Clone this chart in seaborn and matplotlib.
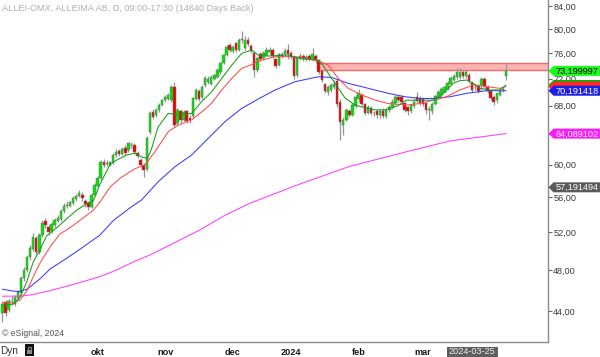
import numpy as np
import pandas as pd
import matplotlib
matplotlib.use("Agg")
import matplotlib.pyplot as plt
from matplotlib.patches import Polygon, Rectangle
from matplotlib.transforms import IdentityTransform
from matplotlib.ticker import NullLocator, NullFormatter
import seaborn as sns

# ---------------- data ----------------
opens = [43.8, 44.8, 44.1, 44.9, 44.7, 45.2, 45.7, 47.2, 48.0, 49.3,
         50.2, 51.4, 49.9, 51.7, 53.2, 52.6, 52.1, 52.8, 53.3, 53.5,
         54.4, 55.0, 55.0, 55.3, 55.8, 56.2, 56.3, 55.6, 55.3, 54.9,
         56.3, 57.4, 58.3, 60.4, 60.1, 60.0, 60.3, 61.2, 61.8, 61.4,
         62.2, 61.9, 62.6, 62.6, 61.5, 60.6, 60.0, 59.4, 64.3, 67.1,
         66.7, 67.4, 68.1, 68.8, 69.0, 68.8, 70.8, 65.6, 67.2, 66.0,
         67.2, 66.3, 66.5, 69.0, 70.1, 69.2, 71.0, 71.5, 71.2, 72.0,
         72.3, 73.0, 74.5, 75.7, 77.3, 76.4, 77.6, 76.5, 78.1, 76.9,
         78.2, 77.2, 76.0, 73.4, 75.8, 75.2, 75.7, 76.2, 76.5, 75.0,
         74.2, 75.7, 75.9, 76.6, 76.0, 75.4, 72.5, 75.2, 75.6, 75.0,
         75.5, 74.9, 75.5, 74.9, 73.2, 71.2, 70.0, 70.3, 70.8, 71.6,
         68.6, 65.3, 66.0, 67.2, 66.7, 67.9, 68.9, 69.6, 68.2, 67.0,
         67.6, 66.9, 67.2, 66.6, 67.3, 66.5, 67.4, 67.8, 68.4, 69.3,
         69.3, 68.4, 67.8, 67.2, 68.0, 69.3, 69.1, 68.9, 68.4, 67.4,
         67.3, 68.3, 69.2, 69.5, 70.0, 70.5, 71.2, 71.8, 72.2, 72.2,
         73.0, 72.4, 72.6, 71.4, 70.8, 70.9, 71.0, 72.0, 70.8, 70.1,
         69.3, 68.8, 69.6, 70.3, 72.4]
highs = [44.9, 45.0, 45.1, 45.4, 45.5, 46.0, 47.4, 48.3, 49.5, 50.6,
         51.9, 51.6, 51.9, 53.4, 53.6, 52.8, 53.1, 53.6, 53.9, 54.6,
         55.3, 55.5, 55.6, 56.1, 56.4, 56.9, 56.6, 55.8, 55.5, 56.5,
         57.7, 58.6, 60.6, 60.7, 60.6, 60.5, 61.5, 62.0, 62.0, 62.3,
         62.5, 63.0, 63.0, 62.8, 61.8, 60.9, 60.2, 63.7, 67.3, 67.5,
         67.7, 68.4, 69.0, 69.6, 69.8, 71.0, 71.5, 67.7, 67.5, 67.4,
         67.4, 66.6, 69.3, 70.6, 70.4, 71.0, 72.4, 72.4, 72.5, 72.8,
         73.6, 74.6, 75.9, 77.3, 77.6, 77.3, 77.9, 78.5, 79.6, 78.8,
         78.6, 77.5, 76.3, 75.4, 76.2, 76.3, 77.0, 77.0, 76.8, 75.3,
         76.1, 76.2, 76.8, 77.5, 76.4, 75.7, 75.5, 76.0, 75.9, 75.7,
         75.8, 76.9, 75.8, 75.1, 73.4, 71.4, 71.0, 71.3, 71.8, 71.9,
         68.9, 66.4, 67.7, 67.5, 68.4, 69.6, 70.4, 69.9, 68.4, 68.1,
         67.9, 67.3, 67.5, 67.5, 67.6, 67.7, 68.1, 68.9, 69.6, 69.6,
         69.5, 68.6, 68.0, 68.3, 68.9, 70.0, 69.4, 69.3, 68.6, 67.9,
         68.5, 69.6, 70.3, 70.8, 71.0, 71.6, 72.4, 72.7, 73.7, 73.6,
         73.3, 73.3, 72.9, 71.7, 71.2, 71.2, 72.3, 72.3, 71.0, 70.3,
         69.5, 69.8, 70.4, 70.8, 74.4]
lows = [43.0, 43.5, 43.9, 44.6, 44.5, 45.0, 45.5, 46.9, 47.8, 49.0,
        50.0, 49.6, 49.6, 51.5, 52.5, 51.7, 51.9, 52.6, 53.1, 53.3,
        54.2, 54.7, 54.8, 55.1, 55.6, 56.0, 55.6, 54.9, 54.5, 54.7,
        56.1, 57.2, 58.1, 59.7, 59.8, 59.8, 60.1, 61.0, 61.1, 61.2,
        61.3, 61.7, 62.2, 61.4, 60.8, 59.8, 58.5, 59.2, 64.0, 66.1,
        66.4, 67.1, 67.9, 68.5, 68.8, 68.6, 65.0, 65.3, 65.6, 65.8,
        65.5, 65.6, 66.2, 68.8, 68.7, 69.0, 70.8, 71.2, 71.0, 71.8,
        72.1, 72.8, 74.3, 75.5, 76.2, 76.1, 76.2, 76.3, 77.7, 76.6,
        77.2, 76.0, 72.3, 73.1, 74.7, 74.9, 75.5, 75.9, 75.2, 73.6,
        74.0, 75.3, 75.6, 75.0, 75.1, 72.0, 72.2, 74.9, 74.8, 74.7,
        74.8, 74.7, 74.5, 72.8, 71.5, 69.8, 69.6, 70.0, 70.5, 67.8,
        63.2, 63.9, 65.8, 66.4, 66.5, 67.7, 68.6, 68.0, 66.7, 66.8,
        66.6, 66.5, 66.3, 66.3, 66.2, 66.2, 67.1, 67.5, 68.1, 68.5,
        68.2, 67.1, 66.7, 66.9, 67.7, 68.4, 68.1, 67.9, 66.8, 65.9,
        66.8, 68.1, 69.0, 69.3, 69.8, 70.3, 71.0, 71.6, 72.0, 72.0,
        72.1, 72.1, 71.3, 70.0, 70.3, 69.8, 70.3, 70.6, 69.8, 68.8,
        68.1, 68.4, 69.4, 70.0, 71.8]
closes = [44.7, 43.8, 44.9, 44.95, 45.3, 45.8, 47.2, 48.0, 49.3, 50.3,
          51.5, 49.9, 51.7, 53.0, 52.8, 52.0, 52.9, 53.4, 53.6, 54.4,
          55.0, 55.1, 55.4, 55.9, 56.1, 56.5, 55.9, 55.2, 54.8, 56.3,
          57.5, 58.3, 60.4, 60.0, 60.2, 60.3, 61.3, 61.6, 61.4, 62.0,
          61.5, 62.8, 62.5, 61.6, 61.1, 60.0, 59.3, 63.5, 67.0, 66.4,
          67.4, 68.1, 68.8, 69.3, 69.5, 70.8, 65.3, 67.4, 65.9, 67.1,
          65.8, 65.9, 69.1, 70.3, 69.0, 70.8, 72.1, 71.9, 72.2, 72.5,
          73.4, 74.4, 75.7, 77.0, 76.6, 77.0, 76.5, 78.2, 78.3, 78.2,
          77.5, 76.3, 73.4, 75.2, 75.0, 76.0, 76.6, 76.5, 75.5, 73.9,
          75.8, 75.8, 76.4, 75.9, 75.4, 72.4, 75.3, 75.6, 75.1, 75.4,
          75.1, 75.8, 74.9, 73.1, 71.8, 70.1, 70.7, 71.0, 71.2, 68.2,
          65.7, 66.0, 67.4, 66.7, 68.1, 69.3, 69.8, 68.3, 67.0, 67.8,
          66.9, 66.95, 66.6, 67.2, 66.5, 67.4, 67.8, 68.6, 69.3, 68.8,
          68.5, 67.4, 67.2, 68.1, 68.6, 68.7, 68.4, 68.2, 67.4, 67.5,
          68.3, 69.4, 70.0, 70.5, 70.8, 71.3, 72.1, 72.4, 73.0, 73.0,
          72.4, 73.0, 71.6, 70.3, 70.7, 70.1, 72.0, 70.9, 70.1, 69.1,
          68.5, 69.8, 70.1, 70.4, 73.2]

# moving averages (bar index, value)
ma_fast_idx = [0, 3.5, 5.7, 7.9, 10, 12.2, 14.4, 17.7, 20.9, 24.2, 26.9, 29.6,
               31.8, 35, 37.2, 40.5, 43.2, 45.3, 47.2, 48.5, 50.7, 54, 57.3,
               61.6, 64.9, 68.1, 71.4, 74.7, 77.9, 81.2, 83.3, 86.5, 93, 96.3,
               102.4, 104.4, 107.2, 109.4, 111.6, 114.8, 118.1, 121.3, 124.6,
               128.6, 131.6, 136, 140.3, 142.5, 144.7, 146.8, 149, 151.2,
               153.4, 155.5, 158.8, 162, 164]
ma_fast_val = [44.5, 44.65, 45.3, 46.8, 48.8, 50.1, 51.6, 52.5, 53.5, 54.5,
               55.1, 55.6, 57.6, 60.0, 60.6, 61.25, 61.5, 61.0, 60.8, 62.0,
               65.0, 66.9, 66.7, 66.9, 68.6, 70.0, 72.05, 74.1, 75.98, 76.5,
               75.7, 75.55, 75.7, 75.2, 74.9, 74.1, 72.05, 70.6, 69.1, 68.1,
               67.7, 67.4, 67.4, 67.95, 68.8, 68.8, 68.8, 69.3, 70.3, 71.3,
               71.7, 71.8, 71.3, 70.55, 70.3, 70.3, 71.05]
ma_mid_idx = [0, 3.5, 5.7, 7.9, 10, 12.2, 15.5, 18.7, 22, 26.3, 29.6, 31.8,
              35, 38.3, 41.5, 43.2, 46.4, 49.7, 54, 57.3, 61.6, 64.9, 68.1,
              71.4, 74.7, 77.9, 81.2, 83.3, 88.8, 95.3, 102.4, 106.1, 109.4,
              112.6, 117, 121.3, 125.7, 131.6, 136, 140.3, 144.7, 149, 153.4,
              157.7, 162, 164]
ma_mid_val = [44.76, 44.76, 45.04, 45.9, 47.3, 48.7, 50.4, 51.8, 52.5, 53.6,
              54.5, 55.45, 57.2, 58.3, 59.1, 59.5, 59.96, 61.7, 64.35, 65.27,
              65.97, 67.1, 68.34, 70.3, 72.05, 73.6, 74.2, 74.75, 75.45, 75.45,
              74.9, 74.1, 72.05, 70.55, 69.56, 68.82, 68.3, 68.1, 68.3, 68.8,
              69.3, 70.3, 71.05, 70.8, 70.55, 70.8]
ma_slow_idx = [0, 3.3, 5.6, 8.1, 12.2, 15.5, 20.9, 26.3, 31.8, 36.1, 41.5,
               45.3, 50.8, 56.2, 61.6, 67, 72.5, 77.9, 83.3, 88.8, 95.3, 102.9,
               107.2, 112.6, 117, 121.3, 125.7, 131.1, 136, 140.3, 145.8,
               151.2, 157.7, 164]
ma_slow_val = [46.08, 45.9, 45.85, 46.1, 47.1, 48.1, 49.2, 50.4, 51.7, 53.3,
               54.75, 55.68, 57.9, 59.75, 61.25, 63.45, 65.75, 67.6, 68.97,
               70.3, 71.55, 72.3, 72.2, 71.3, 70.8, 70.3, 69.8, 69.3, 69.05,
               69.05, 69.3, 69.8, 70.2, 70.19]
ma_long_idx = [0, 6.5, 10, 15.5, 20.9, 26.3, 31.8, 37.2, 42.6, 48, 53.5, 58.9,
               64.3, 72.5, 80.6, 96.9, 113.2, 133.8, 145.8, 164]
ma_long_val = [45.4, 45.42, 45.57, 45.94, 46.37, 46.83, 47.33, 48.0, 48.82,
               49.55, 50.43, 51.34, 52.25, 53.9, 55.3, 57.6, 59.8, 61.9,
               63.1, 64.09]

band_start = 103
band_low = 73.3
band_high = 74.5

month_pos = [31, 53, 75, 94, 116, 137, 157]
month_labels = ["okt", "nov", "dec", "2024", "feb", "mar", ""]
price_ticks = [84, 80, 76, 72, 68, 64, 60, 56, 52, 48, 44]
# the 64,00 label sits completely under the magenta price tag in the reference
price_tick_labels = ["84,00", "80,00", "76,00", "72,00", "68,00", "",
                     "60,00", "56,00", "52,00", "48,00", "44,00"]

tag_values = [71.05, 70.8, 73.199997, 70.191418, 64.089102, 57.191494]
tag_texts = ["", "", "73,199997", "70,191418", "64,089102", "57,191494"]
tag_fills = ["#00b400", "#ff2a2a", "#19ff19", "#1e1ee6", "#ff19ff", "#5a5a5a"]
tag_textcolors = ["white", "white", "black", "white", "white", "white"]

cursor_idx = 153
cursor_text = "2024-03-25"
title_text = "ALLEI-OMX, ALLEIMA AB, D, 09:00-17:30 (14640 Days Back)"

# ---------------- style ----------------
sns.set_theme(style="white")
plt.rcParams["font.family"] = ["Liberation Sans", "DejaVu Sans"]

W, H = 600, 357
fig = plt.figure(figsize=(W / 100, H / 100), dpi=100)
fig.patch.set_facecolor("white")
ax = fig.add_axes([0, 15 / H, 548 / W, 342 / H])
ax.set_facecolor("white")
ax.set_yscale("log")
XMAX = 177.7
ax.set_xlim(-0.81, XMAX)
ax.set_ylim(41.20, 85.08)

df = pd.DataFrame({"o": opens, "h": highs, "l": lows, "c": closes})
df["i"] = np.arange(len(df))
up = df["c"] >= df["o"]

# resistance band
ax.fill_between([band_start, XMAX], band_low, band_high, color="#ffb4b4",
                lw=0, zorder=1)
ax.hlines([band_low, band_high], band_start, XMAX, color="#f26a6a", lw=1.0,
          zorder=1.5)

# candles
ax.vlines(df["i"], df["l"], df["h"], color="#959595", lw=0.9, zorder=2)
bottoms = np.minimum(df["o"], df["c"])
heights = np.maximum((df["c"] - df["o"]).abs(), 0.07)
colors = np.where(up, "#00e600", "#ee0000")
ax.bar(df["i"], heights, bottom=bottoms, width=0.8, color=colors,
       edgecolor="#707070", linewidth=0.35, zorder=3)

# moving averages
for idx, val, col in [(ma_long_idx, ma_long_val, "#ff3cff"),
                      (ma_slow_idx, ma_slow_val, "#3a3aff"),
                      (ma_mid_idx, ma_mid_val, "#ff4a4a"),
                      (ma_fast_idx, ma_fast_val, "#1a9a1a")]:
    sns.lineplot(x=idx, y=val, ax=ax, color=col, lw=0.75, sort=False,
                 zorder=4, legend=False)

# axes styling
for s in ["left", "top"]:
    ax.spines[s].set_visible(False)
for s in ["right", "bottom"]:
    ax.spines[s].set_color("#8c8c8c")
    ax.spines[s].set_linewidth(1.0)
ax.yaxis.tick_right()
ax.yaxis.set_minor_locator(NullLocator())
ax.yaxis.set_minor_formatter(NullFormatter())
ax.set_yticks(price_ticks)
ax.set_yticklabels(price_tick_labels)
ax.tick_params(axis="y", which="major", right=True, left=False,
               direction="out", length=3, width=0.8, color="#666666",
               labelsize=6.6, pad=0.8, labelcolor="#3a3a3a")
ax.set_xticks(month_pos)
ax.set_xticklabels(month_labels, fontweight="bold")
ax.tick_params(axis="x", direction="out", length=3, width=0.8,
               color="#666666", labelsize=6.6, pad=1.2, labelcolor="#1a1a1a")
ax.set_xlabel("")
ax.set_ylabel("")
ax.grid(False)

ax.text(0.004, 0.988, title_text, transform=ax.transAxes, color="#b0b0b0",
        fontsize=6.6, va="top", ha="left")
ax.text(0.004, 0.026, "\u00a9 eSignal, 2024", transform=ax.transAxes,
        color="#555555", fontsize=6.2, va="center", ha="left")

# price tags on the right
ident = IdentityTransform()
for v, t, fc, tc in zip(tag_values, tag_texts, tag_fills, tag_textcolors):
    yc = ax.transData.transform((0, v))[1]
    poly = Polygon([(548.5, yc), (553.5, yc + 5.0), (600, yc + 5.0),
                    (600, yc - 5.0), (553.5, yc - 5.0)], closed=True,
                   facecolor=fc, edgecolor="none", transform=ident, zorder=5)
    fig.add_artist(poly)
    if t:
        fig.text(555.5, yc - 0.3, t, transform=ident, color=tc, fontsize=6.6,
                 va="center", ha="left", zorder=6)

# cursor date box
xc = ax.transData.transform((cursor_idx, 50))[0]
fig.add_artist(Rectangle((xc - 25.5, 0), 51, 10.5, facecolor="#606060",
                         edgecolor="none", transform=ident, zorder=5))
fig.text(xc, 5.2, cursor_text, transform=ident, color="#e8e8e8", fontsize=6.6,
         va="center", ha="center", zorder=6)

# "Dyn" and lock icon
fig.text(0.5, 5.8, "Dyn", transform=ident, color="#333333", fontsize=7.2,
         va="center", ha="left")
fig.add_artist(Rectangle((25, 1), 8.5, 12, facecolor="#111111",
                         edgecolor="none", transform=ident, zorder=5))
fig.add_artist(Rectangle((27, 3), 4.5, 4, facecolor="#8a8a8a",
                         edgecolor="none", transform=ident, zorder=6))
fig.add_artist(Rectangle((27.8, 7), 3, 3.5, facecolor="none",
                         edgecolor="#8a8a8a", lw=0.8, transform=ident, zorder=6))

fig.savefig("out.png", dpi=100, facecolor="white")
